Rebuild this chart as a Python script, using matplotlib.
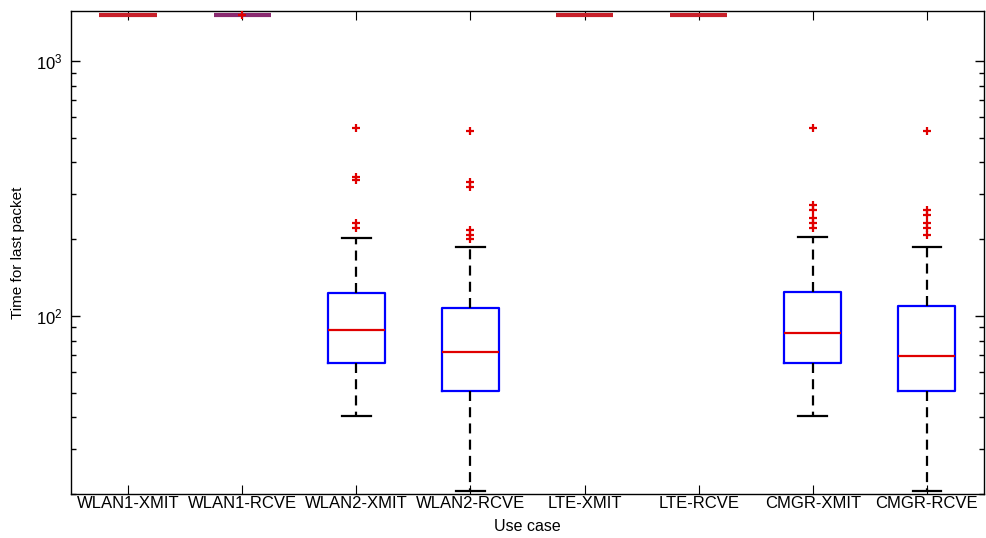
import numpy as np
import matplotlib
matplotlib.use('Agg')
import matplotlib.pyplot as plt
from matplotlib.ticker import LogLocator, NullFormatter

plt.rcParams['font.family'] = ['Liberation Sans', 'DejaVu Sans']
plt.rcParams['mathtext.fontset'] = 'custom'
plt.rcParams['mathtext.rm'] = 'Liberation Sans'

# use cases and box statistics
labels = ['WLAN1-XMIT', 'WLAN1-RCVE', 'WLAN2-XMIT', 'WLAN2-RCVE',
          'LTE-XMIT', 'LTE-RCVE', 'CMGR-XMIT', 'CMGR-RCVE']
whislo = [1512, 1512, 40.3, 20.5, 1512, 1512, 40.3, 20.5]
q1 = [1512, 1512, 65.3, 50.5, 1512, 1512, 65.3, 50.5]
med = [1512, 1512, 87.6, 72.1, 1512, 1512, 85.5, 69.3]
q3 = [1512, 1512, 122.7, 107.2, 1512, 1512, 123.8, 109.7]
whishi = [1512, 1512, 201.7, 186, 1512, 1512, 203.5, 187]
fliers = [[],
          [1508],
          [545, 352, 341.5, 231, 221],
          [533, 336, 321, 217, 208, 200],
          [],
          [],
          [545, 272, 260, 242, 231, 221],
          [533, 260, 249, 231, 221, 208]]

stats = []
for i in range(len(labels)):
    stats.append(dict(label=labels[i], whislo=whislo[i], q1=q1[i], med=med[i],
                      q3=q3[i], whishi=whishi[i], fliers=fliers[i]))

fig = plt.figure(figsize=(9.87, 5.38), dpi=100)
ax = fig.add_axes([0.0719, 0.0818, 0.925, 0.8978])

bp = ax.bxp(stats, widths=0.5, capwidths=0.25, showfliers=True,
            boxprops=dict(color='#0000ff', linewidth=1.6),
            medianprops=dict(color='#e00000', linewidth=1.6),
            whiskerprops=dict(color='black', linewidth=1.6, linestyle=(0, (4.5, 2.8))),
            capprops=dict(color='black', linewidth=1.6),
            flierprops=dict(marker='+', markeredgecolor='#e00000', markersize=6,
                            markeredgewidth=1.6, linestyle='none'))

# collapsed boxes at the top show up as a thick band
for i in range(len(labels)):
    if q3[i] - q1[i] < 20:
        bp['medians'][i].set_linewidth(3.0)
        bp['medians'][i].set_color('#c8202a')
        bp['boxes'][i].set_visible(False)
bp['medians'][1].set_color('#8a2a70')
for f in bp['fliers']:
    f.set_zorder(5)

ax.set_yscale('log')
ax.set_ylim(20, 1570)
ax.set_xlim(0.5, 8.5)
ax.yaxis.set_major_locator(LogLocator(base=10, numticks=10))
ax.yaxis.set_minor_locator(LogLocator(base=10, subs=np.arange(2, 10), numticks=10))
ax.yaxis.set_minor_formatter(NullFormatter())

ax.tick_params(axis='both', which='both', direction='in', top=True, right=True)
ax.tick_params(axis='y', which='major', length=6.5, width=1, labelsize=12, pad=6)
ax.tick_params(axis='y', which='minor', length=3.5, width=1)
ax.tick_params(axis='x', which='major', length=6.5, width=0.8, labelsize=12, pad=1.5)
for s in ax.spines.values():
    s.set_linewidth(1.0)

ax.set_xlabel('Use case', fontsize=11.5, labelpad=6)
ax.set_ylabel('Time for last packet', fontsize=11, labelpad=8)

fig.savefig('out.png', dpi=100)
